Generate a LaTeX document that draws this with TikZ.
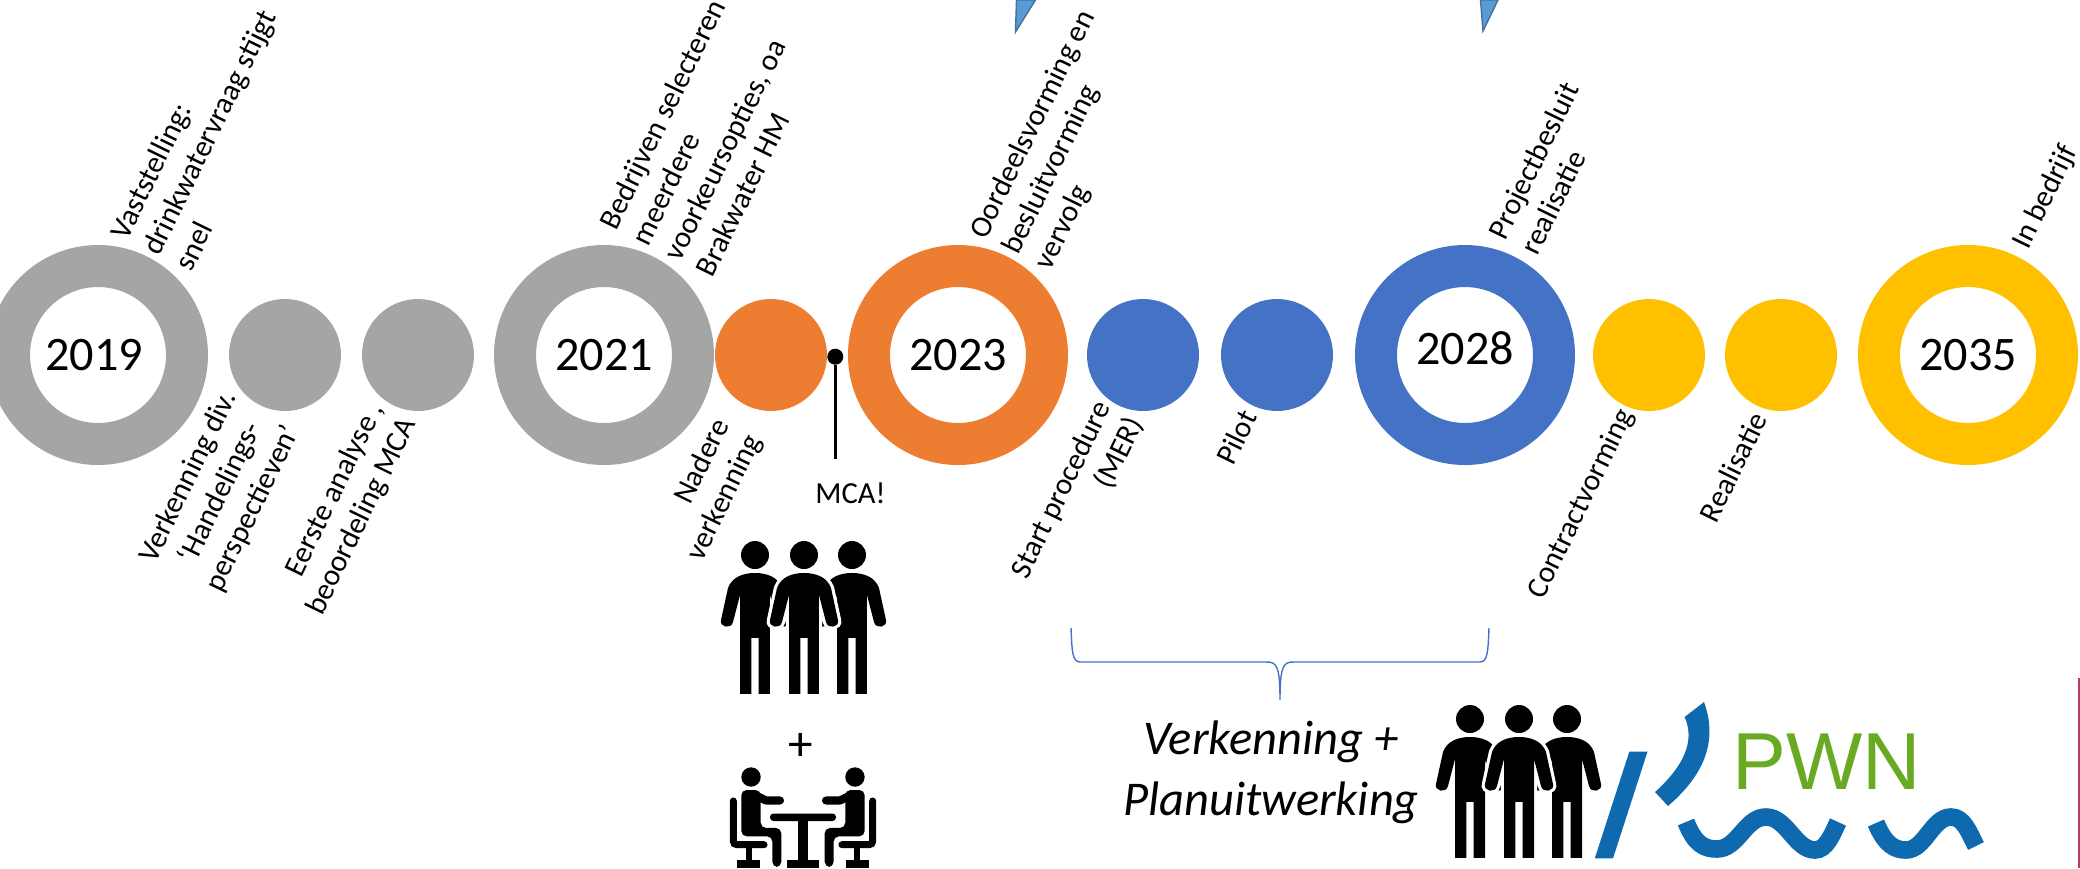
\documentclass[tikz,border=0pt]{standalone}
\usepackage{fontspec}
\setmainfont{Carlito}
\newfontfamily\logofont{Liberation Sans}
\usetikzlibrary{positioning}
\definecolor{tlgray}{HTML}{A5A5A5}
\definecolor{tlorange}{HTML}{ED7D31}
\definecolor{tlblue}{HTML}{4472C4}
\definecolor{tlyellow}{HTML}{FFC000}
\definecolor{pwnblue}{HTML}{0F69AF}
\definecolor{pwngreen}{HTML}{69AA23}
\definecolor{markerblue}{HTML}{5B9BD5}
\definecolor{markeredge}{HTML}{41719C}
\definecolor{edgered}{HTML}{B83B6A}
\tikzset{
    person/.pic={
        \begin{scope}[x=0.01cm, y=-0.01cm]
            \fill (0,0) circle (14);
            \path[pic actions] (0,18) .. controls (-12,18) and (-23,22) .. (-27,33)
                -- (-34,65) .. controls (-36,72) and (-24,75) .. (-22,67)
                -- (-15,40) -- (-15,139) -- (-3.7,139) -- (-3.7,83) -- (3.7,83) -- (3.7,139) -- (15,139) -- (15,40)
                -- (22,67) .. controls (24,75) and (36,72) .. (34,65)
                -- (27,33) .. controls (23,22) and (12,18) .. (0,18) -- cycle;
        \end{scope}
    },
    group/.pic={
        \pic[fill=black] at (-0.49,0) {person};
        \pic[fill=black] at (0.48,0) {person};
        \pic[fill=white, draw=white, line width=1.8pt] at (0,0) {person};
        \pic[fill=black] at (0,0) {person};
    },
    sitter/.pic={
        \begin{scope}[x=0.01cm, y=-0.01cm]
            \fill (-52,0) circle (9.7);
            \draw[line width=2pt, line cap=round, rounded corners=1pt] (-69.7,24) -- (-69.7,67.7) -- (-39,67.7);
            \fill (-57.3,67.7) rectangle (-50.7,83);
            \fill (-66,82.7) rectangle (-42.7,90.7);
            \fill[rounded corners=1.5pt] (-61.7,13) -- (-42.3,13) -- (-42.3,51) -- (-21.7,51) -- (-21.7,90)
                -- (-30.7,90) -- (-30.7,59.3) -- (-61.7,59.3) -- cycle;
            \draw[line width=2.3pt, line cap=round, line join=round] (-50,17) -- (-37,23.5) -- (-23,23.5);
        \end{scope}
    }
}
\begin{document}
\begin{tikzpicture}[
                yearring/.style={circle, line width=0.42cm, minimum size=1.78cm, inner sep=0pt, font=\fontsize{13.7}{17}\selectfont},
                yeartext/.style={font=\fontsize{13.7}{17}\selectfont},
                stepdot/.style={circle, minimum size=1.12cm, inner sep=0pt, outer sep=0pt},
                toplabel/.style={rotate=64, anchor=west, align=left, inner sep=0pt, font=\fontsize{8.6}{10.2}\selectfont},
                lowlabel/.style={rotate=64, align=right, inner sep=0pt, font=\fontsize{8.6}{10.2}\selectfont},
                marker/.style={fill=markerblue, draw=markeredge, line width=0.4pt}
            ]
            \useasboundingbox (0,0) rectangle (20.8,-8.68);

            % Grey phase
            \node[yearring, draw=tlgray] (y2019) at (0.98,-3.55) {};
            \node[yeartext] (y2019text) at (0.94,-3.55) {2019};
            \node[stepdot, fill=tlgray, right=0.21cm of y2019] (verkenning) {};
            \node[stepdot, fill=tlgray, right=0.21cm of verkenning] (analyse) {};
            \node[yearring, draw=tlgray, right=0.2cm of analyse] (y2021) {2021};

            % Orange phase
            \node[stepdot, fill=tlorange, right=0.01cm of y2021] (nadere) {};
            \node[yearring, draw=tlorange, right=0.21cm of nadere] (y2023) {2023};

            % Blue phase
            \node[stepdot, fill=tlblue, right=0.19cm of y2023] (procedure) {};
            \node[stepdot, fill=tlblue, right=0.22cm of procedure] (pilot) {};
            \node[yearring, draw=tlblue, right=0.22cm of pilot] (y2028) {};
            \node[yeartext] (y2028text) at (14.65,-3.48) {2028};

            % Yellow phase
            \node[stepdot, fill=tlyellow, right=0.18cm of y2028] (contract) {};
            \node[stepdot, fill=tlyellow, right=0.2cm of contract] (realisatie) {};
            \node[yearring, draw=tlyellow, right=0.21cm of realisatie] (y2035) {2035};

            % Labels above
            \node[toplabel] (vaststelling) at (1.5,-2.53) {Vaststelling:\\drinkwatervraag stijgt\\snel};
            \node[toplabel] (bedrijven) at (6.55,-2.51) {Bedrijven selecteren\\meerdere\\voorkeursopties, oa\\Brakwater HM};
            \node[toplabel] (oordeel) at (10.11,-2.53) {Oordeelsvorming en\\besluitvorming\\vervolg};
            \node[toplabel] (projectbesluit) at (15.12,-2.45) {Projectbesluit\\realisatie};
            \node[toplabel] (bedrijf) at (20.21,-2.48) {In bedrijf};

            % Labels below
            \node[lowlabel, align=center] (handelings) at (2.21,-4.93) {Verkenning div.\\`Handelings-\\perspectieven'};
            \node[lowlabel] (eerste) at (3.46,-5.09) {Eerste analyse ,\\beoordeling MCA};
            \node[lowlabel] (naderelabel) at (7.09,-4.9) {Nadere\\verkenning};
            \node[lowlabel] (startlabel) at (10.78,-4.98) {Start procedure\\(MER)};
            \node[lowlabel] (pilotlabel) at (12.36,-4.37) {Pilot};
            \node[lowlabel] (contractlabel) at (15.82,-5.04) {Contractvorming};
            \node[lowlabel] (realisatielabel) at (17.33,-4.67) {Realisatie};

            % MCA marker
            \node[circle, fill=black, inner sep=0pt, minimum size=0.16cm] (mcadot) at (8.353,-3.567) {};
            \coordinate (mcaend) at (8.353,-4.59);
            \node[font=\fontsize{8.7}{10}\selectfont] (mca) at (8.505,-4.93) {MCA!};
            \draw[line width=0.8pt] (mcadot) -- (mcaend);

            % Pointers cut off by the top edge
            \filldraw[marker] (10.165,0) -- (10.155,-0.32) -- (10.355,0) -- cycle;
            \filldraw[marker] (14.805,0) -- (14.83,-0.31) -- (14.98,0) -- cycle;

            % Icons
            \pic at (8.04,-5.55) {group};
            \node[font=\fontsize{14}{14}\selectfont] (plus) at (8.01,-7.47) {+};
            \begin{scope}[shift={(8.03,-7.77)}]
                \pic {sitter};
                \pic[xscale=-1] {sitter};
                \fill[rounded corners=1pt] (-0.33,-0.365) rectangle (0.33,-0.44);
                \fill (-0.05,-0.4) rectangle (0.05,-0.83);
                \fill (-0.157,-0.827) rectangle (0.157,-0.907);
            \end{scope}

            % Brace over the plan phase
            \coordinate (bleft) at (10.71,-6.28);
            \coordinate (bright) at (14.89,-6.28);
            \coordinate (btip) at (12.8,-7.0);
            \draw[tlblue, line width=0.4pt] (bleft) .. controls (10.72,-6.5) and (10.72,-6.62) .. (10.8,-6.62)
                -- (12.66,-6.62) .. controls (12.76,-6.62) and (12.8,-6.64) .. (btip)
                .. controls (12.8,-6.64) and (12.84,-6.62) .. (12.94,-6.62)
                -- (14.8,-6.62) .. controls (14.88,-6.62) and (14.88,-6.5) .. (bright);
            \node[font=\fontsize{13.8}{17.3}\selectfont\itshape, align=center] (planfase) at (12.71,-7.72) {Verkenning +\\Planuitwerking};
            \pic at (15.19,-7.19) {group};

            % PWN logo
            \node[font=\fontsize{23}{23}\logofont, text=pwngreen, inner sep=0pt] (pwn) at (18.27,-7.62) {PWN};
            \fill[pwnblue] (16.293,-7.517) -- (16.475,-7.517) -- (16.13,-8.583) -- (15.948,-8.583) -- cycle;
            \fill[pwnblue] (17.04,-7.02) .. controls (17.16,-7.35) and (17.1,-7.7) .. (16.68,-8.06)
                -- (16.55,-7.92) .. controls (16.85,-7.65) and (16.95,-7.4) .. (16.846,-7.17) -- cycle;
            \draw[pwnblue, line width=5pt] (16.86,-8.22) .. controls (16.95,-8.45) and (17.05,-8.49) .. (17.17,-8.49)
                .. controls (17.38,-8.49) and (17.45,-8.17) .. (17.66,-8.17)
                .. controls (17.87,-8.17) and (17.95,-8.5) .. (18.15,-8.5)
                .. controls (18.26,-8.5) and (18.32,-8.35) .. (18.38,-8.22);
            \draw[pwnblue, line width=5pt] (18.76,-8.23) .. controls (18.85,-8.45) and (18.95,-8.5) .. (19.06,-8.5)
                .. controls (19.25,-8.5) and (19.32,-8.17) .. (19.51,-8.17)
                .. controls (19.63,-8.17) and (19.68,-8.3) .. (19.76,-8.46);

            % Right edge
            \draw[edgered, line width=0.5pt] (20.79,-6.78) -- (20.79,-8.68);
        \end{tikzpicture}
\end{document}
